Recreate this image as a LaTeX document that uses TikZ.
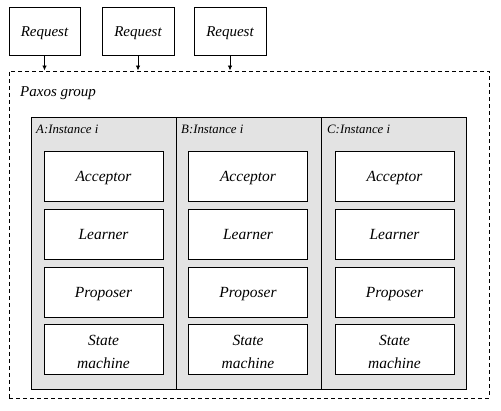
\documentclass[tikz,border=0pt]{standalone}
\usepackage{fontspec}
\setmainfont{Liberation Serif}
\usetikzlibrary{arrows.meta}
\definecolor{colgray}{HTML}{E3E3E3}
\begin{document}
\begin{tikzpicture}[x=1pt,y=-1pt,
  reqbox/.style={draw,line width=0.9pt,fill=white,minimum width=72pt,minimum height=48pt,inner sep=0pt,text height=15pt,text depth=3.6pt,font=\fontsize{15}{18}\selectfont\itshape},
  colbox/.style={draw,line width=0.9pt,fill=colgray,minimum width=145pt,minimum height=272pt,inner sep=0pt},
  plainbox/.style={draw,line width=0.9pt,fill=white,minimum width=119pt,minimum height=50pt,inner sep=0pt},
  rolebox/.style={plainbox,text height=15pt,text depth=3.6pt,font=\fontsize{15.5}{23}\selectfont\itshape},
  sttext/.style={inner sep=0pt,align=center,yshift=-2.5pt,font=\fontsize{15.5}{23}\selectfont\itshape},
  collabel/.style={anchor=base west,inner sep=0pt,font=\fontsize{12.8}{15}\selectfont\itshape},
  arr/.style={-{Latex[length=5pt,width=4.5pt]},line width=0.9pt}]
\useasboundingbox (0,0) rectangle (501,411);
\node[draw,dashed,dash pattern=on 4pt off 3pt,line width=0.9pt,minimum width=480pt,minimum height=327pt,inner sep=0pt] (group) at (249,234.5) {};
\node[anchor=base west,inner sep=0pt,font=\fontsize{15}{18}\selectfont\itshape] (glabel) at (20,96.5) {Paxos group};
\node[reqbox,minimum width=71pt] (r1) at (44.5,31) {Request};
\node[reqbox] (r2) at (138,31) {Request};
\node[reqbox] (r3) at (230,31) {Request};
\draw[arr] (r1.south) -- (r1.south |- group.north);
\draw[arr] (r2.south) -- (r2.south |- group.north);
\draw[arr] (r3.south) -- (r3.south |- group.north);
\node[colbox] (ca) at (103.5,253) {};
\node[colbox] (cb) at (249,253) {};
\node[colbox] (cc) at (394,253) {};
\node[collabel] (la) at (36,134) {A:Instance i};
\node[collabel] (lb) at (181,134) {B:Instance i};
\node[collabel] (lc) at (327,134) {C:Instance i};
\foreach \c/\x in {a/103.5,b/248,c/394.5}{
  \node[rolebox] (acc\c) at (\x,176) {Acceptor};
  \node[rolebox] (lea\c) at (\x,234) {Learner};
  \node[rolebox] (pro\c) at (\x,292) {Proposer};
  \node[plainbox] (sta\c) at (\x,349) {};
  \node[sttext] (stt\c) at (sta\c.center) {State\\machine};
}
\end{tikzpicture}
\end{document}
